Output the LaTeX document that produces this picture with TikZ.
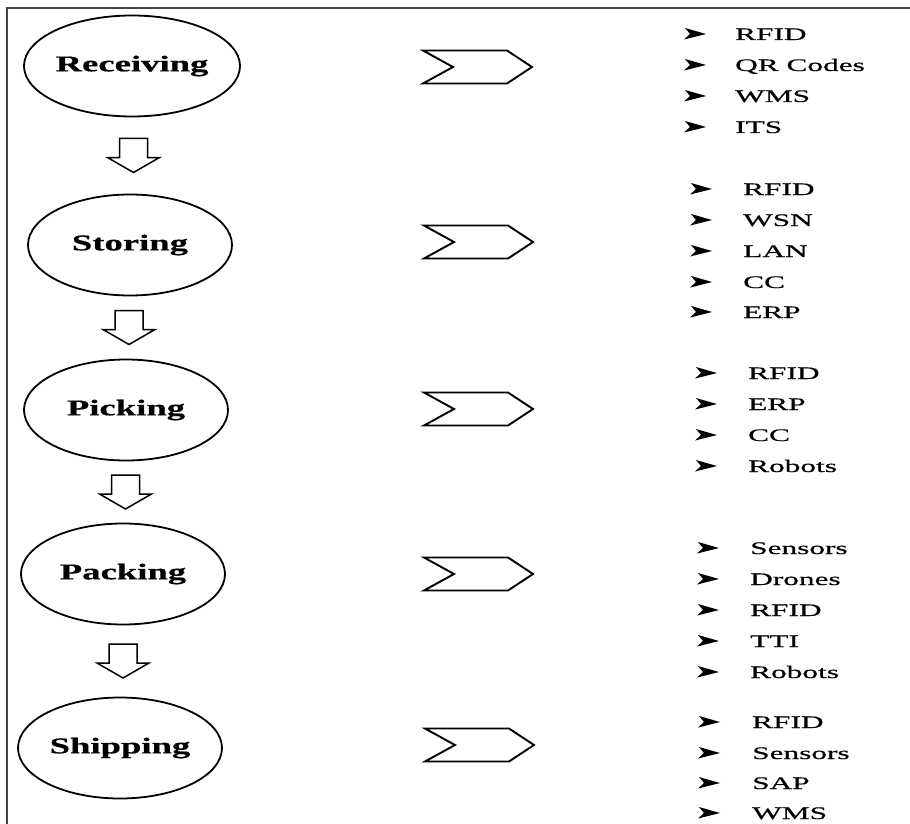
\documentclass[tikz,border=0pt]{standalone}
\usepackage{fontspec}
\setmainfont{Liberation Serif}
\newfontfamily\listfont[FakeStretch=1.78, FakeBold=0.6]{Liberation Serif}
\newfontfamily\labfont[FakeStretch=1.63, FakeBold=0.6]{Liberation Serif}
\usetikzlibrary{shapes.geometric}
\definecolor{framegray}{HTML}{444444}
\tikzset{
  frameline/.style={draw=framegray, line width=1.3pt},
  stage/.style={ellipse, draw=black, line width=1.8pt, minimum width=204pt, minimum height=101pt, inner sep=0pt,
    font=\labfont\bfseries\fontsize{22.5}{24}\selectfont},
  chevline/.style={draw=black, line width=1.9pt, line join=miter},
  hollowarrow/.style={draw=black, line width=1.5pt, line join=miter, fill=white},
  itemtext/.style={anchor=base west, inner sep=0pt, font=\listfont\fontsize{17.6}{20}\selectfont},
  chev/.pic={\draw[chevline] (0,-16.5) -- (84,-16.5) -- (109,0) -- (84,16.5) -- (0,16.5) -- (30,0) -- cycle;},
  bul/.pic={\fill[black] (1,-6) -- (22,0) -- (0,5.5) -- (6,0) -- cycle;},
  downarr/.pic={\draw[hollowarrow] (-14,-17) -- (14,-17) -- (14,2) -- (26,2) -- (0,17) -- (-26,2) -- (-14,2) -- cycle;}
}
\begin{document}
\begin{tikzpicture}[x=1pt,y=-1pt]
\useasboundingbox (0,0) rectangle (910,824);
\draw[frameline] (910,8) -- (7,8) -- (7,824);

% stages
\node[stage] (rec) at (132,66) {Receiving};
\node[stage] (sto) at (130,245) {Storing};
\node[stage] (pic) at (126,410) {Picking};
\node[stage] (pac) at (123,574) {Packing};
\node[stage] (shi) at (120,748) {Shipping};

% hollow arrows between stages
\path (rec.south) -- (sto.north) coordinate[midway] (a1);
\path (sto.south) -- (pic.north) coordinate[midway] (a2);
\path (pic.south) -- (pac.north) coordinate[midway] (a3);
\path (pac.south) -- (shi.north) coordinate[midway] (a4);
\pic[xshift=2.5pt] at (a1) {downarr};
\pic[xshift=1pt] at (a2) {downarr};
\pic[xshift=1pt] at (a3) {downarr};
\pic[xshift=1.5pt] at (a4) {downarr};

% chevrons
\pic at (423,67) {chev};
\pic at (424,242) {chev};
\pic at (424,409) {chev};
\pic at (424,574) {chev};
\pic at (425,745) {chev};

% lists
\foreach \y/\t [count=\i] in {34/RFID, 65/QR Codes, 96/WMS, 127/ITS}{
  \pic at (684,\y) {bul};
  \node[itemtext] (recl\i) at (735,\y+6) {\t};
}
\foreach \y/\t [count=\i] in {189/RFID, 220/WSN, 251/LAN, 282/CC, 312/ERP}{
  \pic at (690,\y) {bul};
  \node[itemtext] (stol\i) at (743,\y+6) {\t};
}
\foreach \y/\t [count=\i] in {373/RFID, 404/ERP, 435/CC, 466/Robots}{
  \pic at (695,\y) {bul};
  \node[itemtext] (picl\i) at (748,\y+6) {\t};
}
\foreach \y/\t [count=\i] in {548/Sensors, 579/Drones, 610/RFID, 641/TTI, 672/Robots}{
  \pic at (697,\y) {bul};
  \node[itemtext] (pacl\i) at (750,\y+6) {\t};
}
\foreach \y/\t [count=\i] in {722/RFID, 753/Sensors, 783/SAP, 813/WMS}{
  \pic at (698,\y) {bul};
  \node[itemtext] (shil\i) at (752,\y+6) {\t};
}
\end{tikzpicture}
\end{document}
